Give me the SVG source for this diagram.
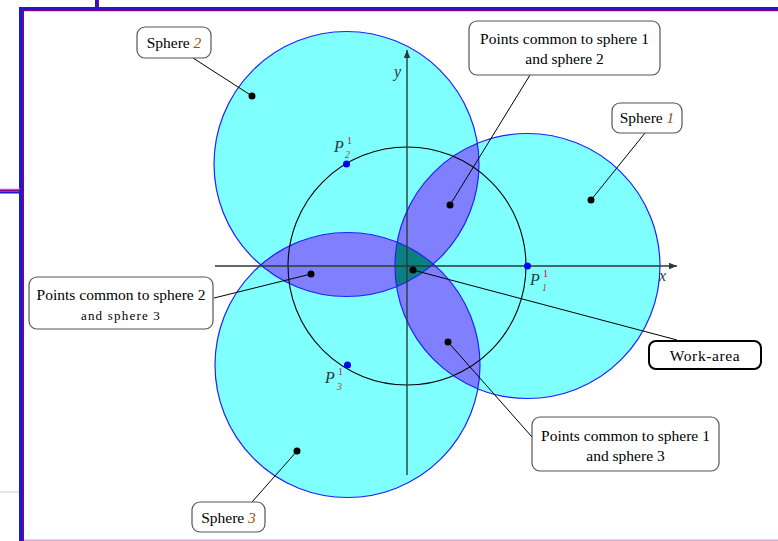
<svg xmlns="http://www.w3.org/2000/svg" width="778" height="541" viewBox="0 0 778 541">
<style>
.t{font-family:"Liberation Serif","Times New Roman",serif;font-size:15.5px;fill:#000;text-anchor:middle}
.box{fill:#fff;stroke:#555;stroke-width:1.2}
.lead{stroke:#000;stroke-width:1;fill:none}
.sph{fill:#80FFFF}
.lens{fill:#8080FF}
.edge{fill:none;stroke:#2020FF;stroke-width:1.2}
.dot{fill:#000}
.pdot{fill:#0000FF}
.num{font-style:italic;fill:#A05010}
.pl{font-family:"Liberation Serif","Times New Roman",serif;font-style:italic;font-size:16px;fill:#2a3a3a}
.sup{font-family:"Liberation Serif",serif;font-size:10px;fill:#C0103A}
.sub{font-family:"Liberation Serif",serif;font-style:italic;font-size:10px;fill:#A05010}
</style>
<defs>
<clipPath id="c1"><circle cx="527.5" cy="266" r="132.5"/></clipPath>
<clipPath id="c2"><circle cx="346.5" cy="164" r="132.5"/></clipPath>
<clipPath id="c3"><circle cx="347.5" cy="365" r="132.5"/></clipPath>
<marker id="arr" viewBox="0 0 10 10" refX="10" refY="5" markerWidth="8" markerHeight="8" markerUnits="userSpaceOnUse" orient="auto">
<path d="M0,1 L10,5 L0,9 Z" fill="#2a3a3a"/>
</marker>
</defs>
<g id="frame">
<rect x="95" y="0" width="4" height="9" fill="#1a1ad0"/>
<rect x="97.5" y="0" width="1.5" height="9" fill="#800080"/>
<rect x="20" y="7" width="758" height="4" fill="#1a1ad0"/>
<rect x="23" y="10" width="755" height="1.2" fill="#800080"/>
<rect x="19" y="7" width="4" height="534" fill="#1a1ad0"/>
<rect x="22.5" y="10" width="1.5" height="531" fill="#800080"/>
<rect x="0" y="188.5" width="20" height="1" fill="#d8a0d8"/>
<rect x="0" y="189.5" width="20" height="2" fill="#800080"/>
<rect x="0" y="191.5" width="20" height="2" fill="#1a1ad0"/>
<rect x="0" y="491.5" width="19" height="1" fill="#d0d0d0"/>
<rect x="24" y="539.5" width="754" height="1.5" fill="#d8a8d8"/>
</g>
<g id="spheres">
<circle id="sphere1" class="sph" cx="527.5" cy="266" r="132.5"/>
<circle id="sphere2" class="sph" cx="346.5" cy="164" r="132.5"/>
<circle id="sphere3" class="sph" cx="347.5" cy="365" r="132.5"/>
<g clip-path="url(#c2)"><circle class="lens" cx="527.5" cy="266" r="132.5"/></g>
<g clip-path="url(#c3)"><circle class="lens" cx="346.5" cy="164" r="132.5"/></g>
<g clip-path="url(#c1)"><circle class="lens" cx="347.5" cy="365" r="132.5"/></g>
<g clip-path="url(#c1)"><g clip-path="url(#c2)"><circle fill="#0A8080" cx="347.5" cy="365" r="132.5"/></g></g>
<circle class="edge" cx="527.5" cy="266" r="132.5"/>
<circle class="edge" cx="346.5" cy="164" r="132.5"/>
<circle class="edge" cx="347.5" cy="365" r="132.5"/>
</g>
<g id="axes">
<circle cx="407" cy="266" r="119" fill="none" stroke="#000" stroke-width="1.1"/>
<line x1="215" y1="266" x2="677" y2="266" stroke="#2a3a3a" stroke-width="1.4" marker-end="url(#arr)"/>
<line x1="407" y1="475" x2="407" y2="50" stroke="#2a3a3a" stroke-width="1.4" marker-end="url(#arr)"/>
<text class="pl" x="659" y="281">x</text>
<text class="pl" x="394" y="77">y</text>
</g>
<g id="connectors">
<line class="lead" x1="193" y1="58" x2="252" y2="96"/>
<line class="lead" x1="530" y1="75" x2="450" y2="205"/>
<line class="lead" x1="645" y1="133" x2="591" y2="200"/>
<line class="lead" x1="214" y1="298" x2="311" y2="274"/>
<line class="lead" x1="413" y1="270" x2="677" y2="340"/>
<line class="lead" x1="448" y1="342" x2="532" y2="437"/>
<line class="lead" x1="252" y1="502" x2="297" y2="451"/>
</g>
<g id="dots">
<circle class="dot" cx="252" cy="96" r="3.5"/>
<circle class="dot" cx="591" cy="200" r="3.5"/>
<circle class="dot" cx="297" cy="451" r="3.5"/>
<circle class="dot" cx="450" cy="205" r="3.5"/>
<circle class="dot" cx="311" cy="274" r="3.5"/>
<circle class="dot" cx="448" cy="342" r="3.5"/>
<circle class="dot" cx="413" cy="270" r="3.5"/>
<circle class="pdot" cx="527.5" cy="266" r="3.5"/>
<circle class="pdot" cx="346.5" cy="164" r="3.5"/>
<circle class="pdot" cx="347.5" cy="365" r="3.5"/>
</g>
<g id="point-labels">
<text class="pl" x="530" y="285">P</text><text class="sup" x="543" y="277">1</text><text class="sub" x="542" y="291">1</text>
<text class="pl" x="334" y="152">P</text><text class="sup" x="347" y="144">1</text><text class="sub" x="345" y="158">2</text>
<text class="pl" x="325" y="383">P</text><text class="sup" x="338" y="375">1</text><text class="sub" x="337" y="390">3</text>
</g>
<g id="label-sphere2">
<rect class="box" x="137" y="27" width="74" height="31" rx="8"/>
<text class="t" x="174" y="47.5">Sphere <tspan class="num">2</tspan></text>
</g>
<g id="label-sphere1">
<rect class="box" x="612" y="103" width="70" height="30" rx="8"/>
<text class="t" x="647" y="123">Sphere <tspan class="num">1</tspan></text>
</g>
<g id="label-sphere3">
<rect class="box" x="192" y="502" width="73" height="30" rx="8"/>
<text class="t" x="228.5" y="522.5">Sphere <tspan class="num">3</tspan></text>
</g>
<g id="label-common12">
<rect class="box" x="469" y="21" width="191" height="54" rx="8"/>
<text class="t" x="564.5" y="44">Points common to sphere 1</text>
<text class="t" x="564.5" y="64">and sphere 2</text>
</g>
<g id="label-common23">
<rect class="box" x="29" y="277" width="184" height="52" rx="8"/>
<text class="t" x="121" y="300">Points common to sphere 2</text>
<text class="t" x="121" y="320" style="font-size:13px;letter-spacing:1.2px">and sphere 3</text>
</g>
<g id="label-common13">
<rect class="box" x="532" y="417" width="187" height="54" rx="8"/>
<text class="t" x="625.5" y="441">Points common to sphere 1</text>
<text class="t" x="625.5" y="461">and sphere 3</text>
</g>
<g id="label-workarea">
<rect x="649" y="341" width="112" height="28" rx="7" fill="#fff" stroke="#000" stroke-width="2"/>
<text class="t" x="705" y="360.5" style="letter-spacing:0.6px">Work-area</text>
</g>
</svg>
